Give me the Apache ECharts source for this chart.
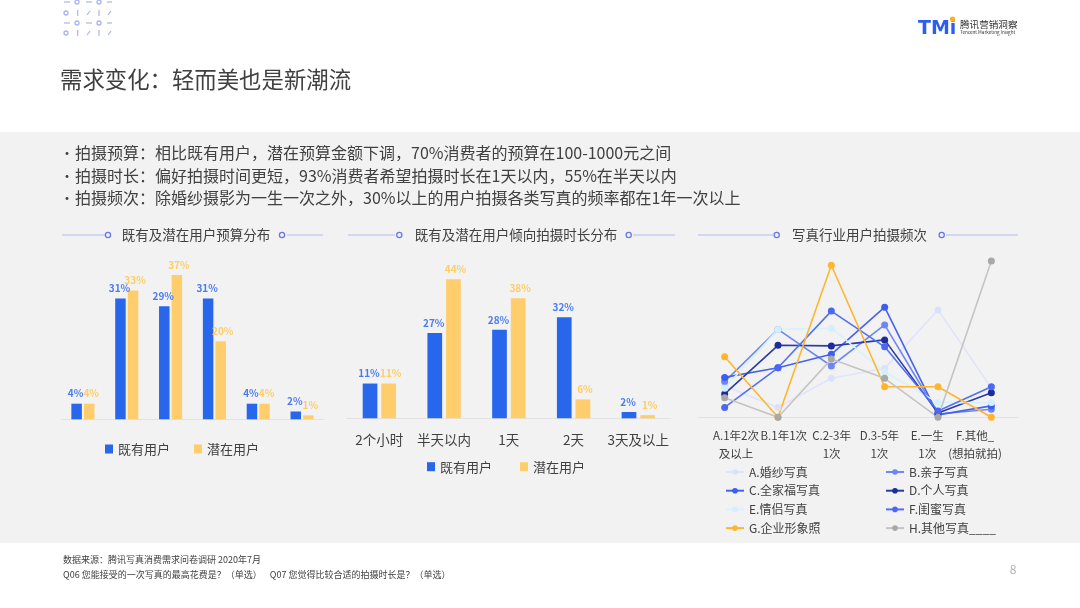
<!DOCTYPE html>
<html>
<head>
<meta charset="utf-8">
<script src="https://cdn.jsdelivr.net/npm/echarts/dist/echarts.min.js"></script>
<style>
html, body { margin: 0; padding: 0; background: #fff; }
#main { width: 1080px; height: 608px; }
</style>
</head>
<body>
<div id="main"></div>
<script>
// 预算分布（类目在原图中未显示）
const budgetCats = ['档位1', '档位2', '档位3', '档位4', '档位5', '档位6'];
const budgetExisting = [4, 31, 29, 31, 4, 2];
const budgetPotential = [4, 33, 37, 20, 4, 1];

// 拍摄时长分布
const durationCats = ['2个小时', '半天以内', '1天', '2天', '3天及以上'];
const durationExisting = [11, 27, 28, 32, 2];
const durationPotential = [11, 44, 38, 6, 1];

// 拍摄频次（数值为从图上估读）
const freqCats = ['A.1年2次\n及以上', 'B.1年1次', 'C.2-3年\n1次', 'D.3-5年\n1次', 'E.一生\n1次', 'F.其他_\n(想拍就拍)'];
const freqNames = ['A.婚纱写真', 'B.亲子写真', 'C.全家福写真', 'D.个人写真', 'E.情侣写真', 'F.闺蜜写真', 'G.企业形象照', 'H.其他写真____'];
const weddingFreq = [10.4, 3.3, 13.0, 16.3, 35.8, 9.8];
const familyKidsFreq = [11.9, 29.3, 17.1, 30.8, 1.1, 2.7];
const familyFreq = [13.3, 16.5, 21.0, 36.7, 0.8, 3.8];
const personalFreq = [7.8, 24.0, 23.8, 25.8, 1.4, 8.2];
const coupleFreq = [9.7, 29.3, 29.7, 15.1, 4.9, 4.9];
const friendsFreq = [3.3, 16.5, 35.4, 23.5, 2.1, 10.2];
const corporateFreq = [20.2, 0, 50.7, 10.2, 10.2, 0];
const otherFreq = [6.5, 0, 19.4, 13.0, 0, 52.1];

const FONT = '"Noto Sans CJK SC", "Noto Sans", sans-serif';
const TEXT = '#404040';
const BLUE = '#2866ec';
const ORANGE = '#ffcd6c';

const chart = echarts.init(document.getElementById('main'));

// --- 装饰元素 ---
function txt(x, y, text, size, opts) {
    opts = opts || {};
    return {
        type: 'text', x: x, y: y, silent: true,
        style: {
            text: text, fill: opts.color || TEXT, fontSize: size, fontFamily: opts.family || FONT,
            fontWeight: opts.weight || 'normal',
            textAlign: opts.align || 'left', align: opts.align || 'left',
            textVerticalAlign: 'middle', verticalAlign: 'middle'
        }
    };
}

function hline(x1, x2, y, color, w) {
    return { type: 'line', silent: true, shape: { x1: x1, y1: y, x2: x2, y2: y }, style: { stroke: color, lineWidth: w || 1.5 } };
}

function ring(cx, cy, r, color) {
    return { type: 'circle', silent: true, shape: { cx: cx, cy: cy, r: r }, style: { fill: 'none', stroke: color, lineWidth: 1.3 } };
}

function sectionTitle(text, cx, l1, l2, c1, c2, r1, r2) {
    const y = 235;
    return [
        hline(l1, l2, y, '#c6ccf4'),
        ring(c1, y, 2.6, '#6a78e6'),
        txt(cx, y, text, 13.5, { align: 'center' }),
        ring(c2, y, 2.6, '#6a78e6'),
        hline(r1, r2, y, '#c6ccf4')
    ];
}

const graphics = [
    { type: 'rect', silent: true, z: -10, shape: { x: 0, y: 132, width: 1080, height: 411 }, style: { fill: '#f2f2f2' } }
];

// 左上角图案
const logoC = '#a9b4f0';
[2, 23].forEach(y => {
    graphics.push(hline(64, 70, y, logoC, 1.2), hline(86, 92, y, logoC, 1.2), hline(107, 112, y, logoC, 1.2));
    graphics.push(ring(77, y, 2, logoC), ring(99, y, 2, logoC));
});
[13, 33].forEach(y => {
    graphics.push(ring(66, y, 2, logoC));
    graphics.push({ type: 'line', silent: true, shape: { x1: 77.7, y1: y - 3, x2: 77.7, y2: y + 3 }, style: { stroke: logoC, lineWidth: 1.2 } });
    graphics.push({ type: 'line', silent: true, shape: { x1: 87, y1: y + 2, x2: 90, y2: y - 2 }, style: { stroke: logoC, lineWidth: 1.2 } });
    graphics.push({ type: 'line', silent: true, shape: { x1: 99, y1: y - 3, x2: 99, y2: y + 3 }, style: { stroke: logoC, lineWidth: 1.2 } });
    graphics.push({ type: 'line', silent: true, shape: { x1: 108, y1: y + 2, x2: 111, y2: y - 2 }, style: { stroke: logoC, lineWidth: 1.2 } });
});

// 右上角标志
graphics.push(txt(918, 29, 'TMi', 19, { color: '#2b5ef2', weight: 'bold', family: '"DejaVu Sans", sans-serif' }));
graphics.push({ type: 'circle', silent: true, shape: { cx: 952.5, cy: 19, r: 2.6 }, style: { fill: '#ffb020' } });
graphics.push(txt(960, 24.5, '腾讯营销洞察', 9.6, { color: '#333' }));
graphics.push(txt(960, 32.5, 'Tencent Marketing Insight', 4.6, { color: '#333' }));

// 标题与要点
graphics.push(txt(60, 79, '需求变化：轻而美也是新潮流', 22.4));
const bullets = [
    '拍摄预算：相比既有用户，潜在预算金额下调，70%消费者的预算在100-1000元之间',
    '拍摄时长：偏好拍摄时间更短，93%消费者希望拍摄时长在1天以内，55%在半天以内',
    '拍摄频次：除婚纱摄影为一生一次之外，30%以上的用户拍摄各类写真的频率都在1年一次以上'
];
bullets.forEach((b, i) => {
    const y = 153 + i * 22.5;
    graphics.push(txt(60, y, '•', 14));
    graphics.push(txt(75, y, b, 16));
});

graphics.push(...sectionTitle('既有及潜在用户预算分布', 196, 62, 105, 108, 282, 287, 323));
graphics.push(...sectionTitle('既有及潜在用户倾向拍摄时长分布', 516, 348, 395, 399.3, 628.7, 633, 675));
graphics.push(...sectionTitle('写真行业用户拍摄频次', 859.5, 698, 773, 776.7, 941.7, 946, 1018));

// 页脚
graphics.push(txt(63, 560, '数据来源：腾讯写真消费需求问卷调研 2020年7月', 9));
graphics.push(txt(63, 575, 'Q06 您能接受的一次写真的最高花费是？（单选）    Q07 您觉得比较合适的拍摄时长是？（单选）', 9));
graphics.push(txt(1013, 569, '8', 12, { color: '#b0b0b0', align: 'center' }));

// --- 系列 ---
function barLabel(color, dx) {
    return { show: true, position: 'top', distance: 5, offset: [dx, 0], formatter: '{c}%', color: color, fontSize: 10, fontWeight: 'bold', fontFamily: FONT };
}

const lineColors = ['#dbe1fb', '#6f86f2', '#3d5cf0', '#1c2c9c', '#d2f0ff', '#4a68f3', '#ffb52e', '#a8a8a8'];
const lineLineColors = ['#dfe4fb', '#7088f2', '#4563f0', '#2a3aa6', '#d6f2ff', '#5270f3', '#ffb52e', '#c4c4c4'];
const freqData = [weddingFreq, familyKidsFreq, familyFreq, personalFreq, coupleFreq, friendsFreq, corporateFreq, otherFreq];

const series = [
    { name: '既有用户', type: 'bar', xAxisIndex: 0, yAxisIndex: 0, data: budgetExisting, barWidth: 10.5, barGap: '20%', itemStyle: { color: BLUE }, label: barLabel('#4a7cf0', -1) },
    { name: '潜在用户', type: 'bar', xAxisIndex: 0, yAxisIndex: 0, data: budgetPotential, barWidth: 10.5, barGap: '20%', itemStyle: { color: ORANGE }, label: barLabel('#ffcc66', 2) },
    { name: '既有用户', type: 'bar', xAxisIndex: 1, yAxisIndex: 1, data: durationExisting, barWidth: 14.7, barGap: '27%', itemStyle: { color: BLUE }, label: barLabel('#4a7cf0', -1) },
    { name: '潜在用户', type: 'bar', xAxisIndex: 1, yAxisIndex: 1, data: durationPotential, barWidth: 14.7, barGap: '27%', itemStyle: { color: ORANGE }, label: barLabel('#ffcc66', 2) }
];

freqNames.forEach((name, i) => {
    series.push({
        name: name, type: 'line', xAxisIndex: 2, yAxisIndex: 2, data: freqData[i],
        symbol: 'circle', symbolSize: 7,
        itemStyle: { color: lineColors[i] },
        lineStyle: { color: lineLineColors[i], width: 1.6 }
    });
});

const hiddenY = { type: 'value', min: 0, show: false };
const baseAxis = { axisLine: { lineStyle: { color: '#e2e2e2', width: 1 } }, axisTick: { show: false }, axisLabel: { show: false } };

const option = {
    animation: false,
    textStyle: { fontFamily: FONT },
    graphic: { elements: graphics },
    grid: [
        { left: 61, right: 756, top: 263.3, bottom: 188.7 },
        { left: 347, right: 409.3, top: 260.3, bottom: 189.7 },
        { left: 698, right: 62, top: 237.3, bottom: 190.7 },
        { left: 712, right: 81, top: 237.3, bottom: 190.7 }
    ],
    xAxis: [
        Object.assign({ type: 'category', gridIndex: 0, data: budgetCats }, baseAxis),
        Object.assign({ type: 'category', gridIndex: 1, data: durationCats }, baseAxis, {
            axisLabel: { show: true, color: TEXT, fontSize: 13.5, margin: 15, interval: 0, fontFamily: FONT }
        }),
        Object.assign({ type: 'category', gridIndex: 2, data: freqCats }, baseAxis),
        {
            type: 'category', gridIndex: 3, data: freqCats,
            axisLine: { show: false }, axisTick: { show: false },
            axisLabel: { show: true, interval: 0, color: TEXT, fontSize: 11.5, lineHeight: 18, margin: 9, fontFamily: FONT }
        }
    ],
    yAxis: [
        Object.assign({ gridIndex: 0, max: 40 }, hiddenY),
        Object.assign({ gridIndex: 1, max: 50 }, hiddenY),
        Object.assign({ gridIndex: 2, max: 60 }, hiddenY),
        Object.assign({ gridIndex: 3, max: 1 }, hiddenY)
    ],
    legend: [
        {
            data: ['既有用户', '潜在用户'], left: 105, top: 441, padding: 0, icon: 'rect',
            itemWidth: 8, itemHeight: 9, itemGap: 24, selectedMode: false,
            textStyle: { color: TEXT, fontSize: 13, lineHeight: 16, fontFamily: FONT }
        },
        {
            data: ['既有用户', '潜在用户'], left: 427, top: 458.7, padding: 0, icon: 'rect',
            itemWidth: 8, itemHeight: 9, itemGap: 28, selectedMode: false,
            textStyle: { color: TEXT, fontSize: 13, lineHeight: 16, fontFamily: FONT }
        },
        {
            data: [freqNames[0], freqNames[2], freqNames[4], freqNames[6]], orient: 'vertical',
            left: 725, top: 464, padding: 0, itemWidth: 18, itemHeight: 7, itemGap: 2.7, selectedMode: false,
            textStyle: { color: TEXT, fontSize: 12, lineHeight: 16, fontFamily: FONT }
        },
        {
            data: [freqNames[1], freqNames[3], freqNames[5], freqNames[7]], orient: 'vertical',
            left: 885, top: 464, padding: 0, itemWidth: 18, itemHeight: 7, itemGap: 2.7, selectedMode: false,
            textStyle: { color: TEXT, fontSize: 12, lineHeight: 16, fontFamily: FONT }
        }
    ],
    series: series
};

chart.setOption(option);
</script>
</body>
</html>
